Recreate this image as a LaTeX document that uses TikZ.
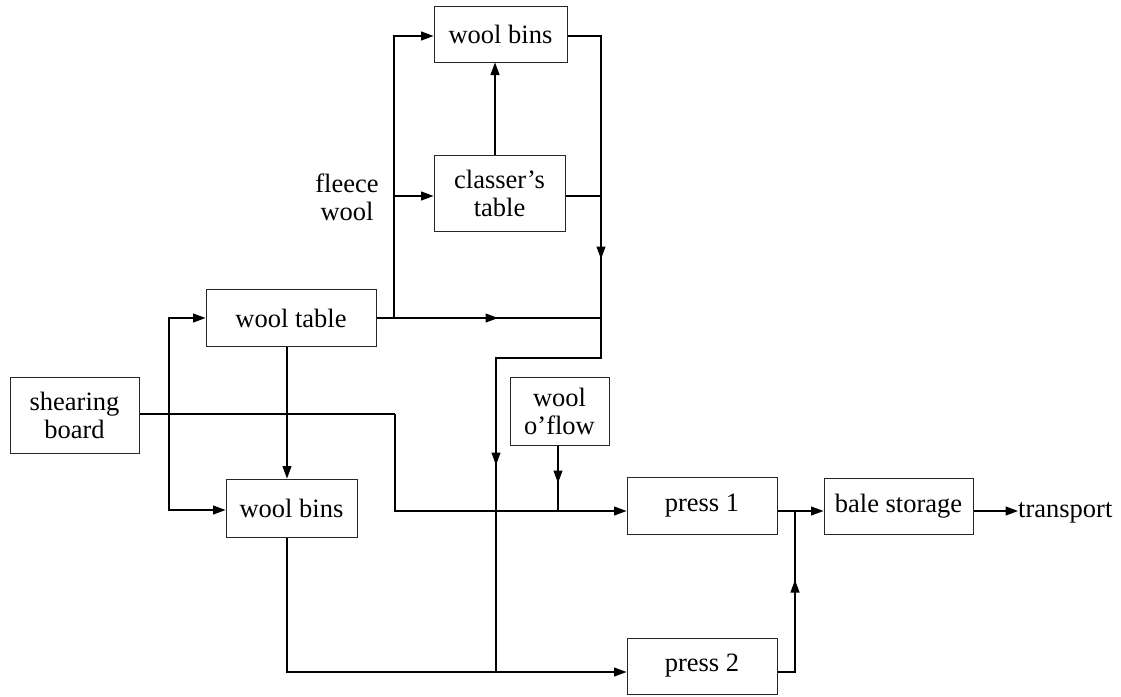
\documentclass[tikz,border=0pt]{standalone}
\usepackage{fontspec}
\setmainfont{Liberation Serif}
\usetikzlibrary{arrows.meta}
\begin{document}
\begin{tikzpicture}[x=1pt,y=-1pt,
  every node/.style={font=\fontsize{26.5}{28}\selectfont},
  box/.style={draw=black!85, line width=1pt, inner sep=0pt, align=center},
  conn/.style={line width=1.1pt},
  arr/.style={conn,-{Triangle[length=12.5pt,width=9pt]}},
]
\useasboundingbox (0,0) rectangle (1121,696);

% process boxes
\node[box,minimum width=133pt,minimum height=56pt] (binsA)   at (500.5,34)  {wool bins};
\node[box,minimum width=131pt,minimum height=76pt] (classer) at (499.5,193) {classer’s\\table};
\node[box,minimum width=170pt,minimum height=57pt] (table)   at (291,318)   {wool table};
\node[box,minimum width=129pt,minimum height=76pt] (shear)   at (74.5,415)  {shearing\\board};
\node[box,minimum width=131pt,minimum height=58pt] (binsB)   at (291.5,508) {wool bins};
\node[box,minimum width=99pt, minimum height=68pt] (oflow)   at (559.5,411) {wool\\o’flow};
\node[box,minimum width=150pt,minimum height=57pt] (press1)  at (702,505.5) {press 1};
\node[box,minimum width=150pt,minimum height=56pt] (press2)  at (702,666)   {press 2};
\node[box,minimum width=149pt,minimum height=56pt] (bale)    at (898.5,506) {bale storage};

% free labels
\node[inner sep=0pt,align=center] (fleece) at (347,197) {fleece\\wool};
\node[inner sep=0pt,anchor=base west] (trans) at (1018,517) {transport};

% junctions and bends
\coordinate (sA)    at (169,414);
\coordinate (sB)    at (395,414);
\coordinate (tsplit) at (394,318);
\coordinate (tmid)  at (498,318);
\coordinate (rjoin) at (601,318);
\coordinate (rtop)  at (601,36);
\coordinate (rdown) at (601,259);
\coordinate (rbot)  at (601,358);
\coordinate (lmid)  at (496,465);
\coordinate (lbot)  at (496,672);
\coordinate (ofa)   at (558,483);
\coordinate (ofb)   at (558,511);
\coordinate (pj)    at (795,511);
\coordinate (pu)    at (795,580);

% shearing board outputs
\draw[conn] (shear.east |- sA) -- (sB);
\draw[arr] (sB) |- (press1.west |- 0,511);
\draw[arr] (sA) |- (table.west);
\draw[arr] (sA) |- (binsB.west |- 0,510);

% wool table outputs
\draw[arr] (table.south -| 287,0) -- (binsB.north -| 287,0);
\draw[conn] (table.east) -- (rjoin);
\draw[arr] (table.east) -- (tmid);
\draw[arr] (tsplit) |- (binsA.west |- 0,36);
\draw[arr] (tsplit |- 0,196) -- (classer.west |- 0,196);

% classing
\draw[arr] (classer.north -| 495,0) -- (binsA.south -| 495,0);
\draw[conn] (binsA.east |- rtop) -- (rtop) -- (rbot) -| (lbot);
\draw[arr] (rtop) -- (rdown);
\draw[arr] (rbot) -| (lmid);
\draw[conn] (classer.east |- 0,196) -- (rtop |- 0,196);

% lower wool bins to press 2
\draw[arr] (binsB.south -| 287,0) |- (press2.west |- lbot);

% overflow into press 1
\draw[conn] (oflow.south -| ofa) -- (ofb);
\draw[arr] (oflow.south -| ofa) -- (ofa);

% presses to storage and transport
\draw[arr] (press1.east |- pj) -- (bale.west |- pj);
\draw[conn] (press2.east |- lbot) -| (pj);
\draw[arr] (press2.east |- lbot) -| (pu);
\draw[arr] (bale.east |- pj) -- (trans.west |- pj);
\end{tikzpicture}
\end{document}
